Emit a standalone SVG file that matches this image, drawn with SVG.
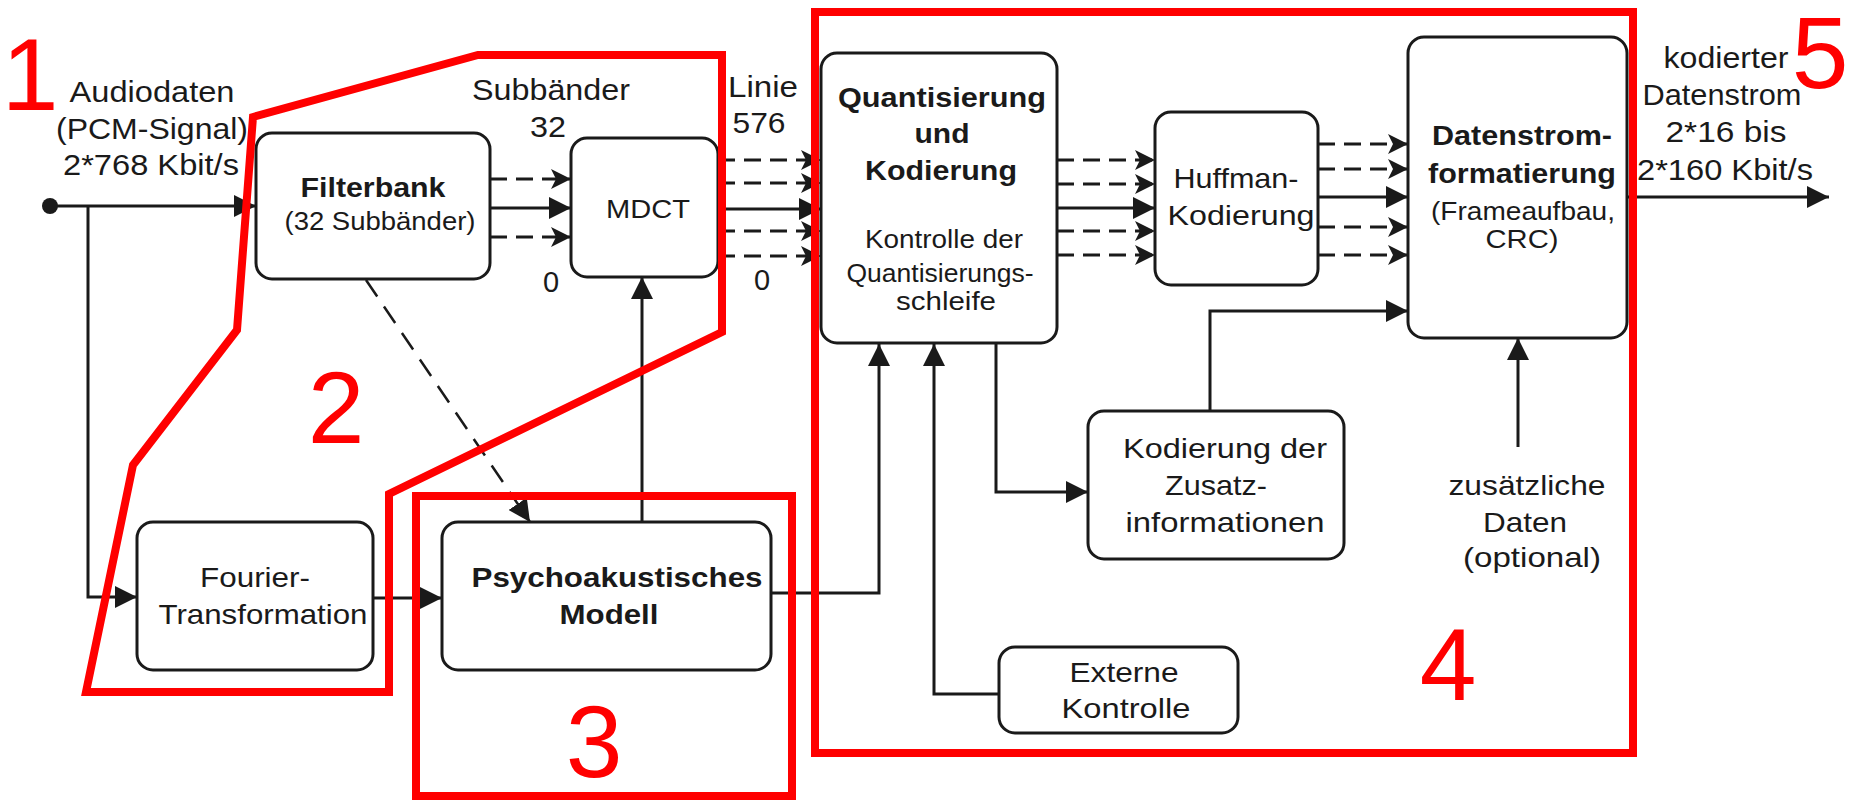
<svg xmlns="http://www.w3.org/2000/svg" width="1860" height="800" viewBox="0 0 1860 800">
  <style>
    .box { fill: #ffffff; stroke: #1a1a1a; stroke-width: 3; }
    .ln { fill: none; stroke: #1a1a1a; stroke-width: 3; }
    .dl { fill: none; stroke: #1a1a1a; stroke-width: 3; stroke-dasharray: 17 9; }
    .dg { fill: none; stroke: #1a1a1a; stroke-width: 2.5; stroke-dasharray: 20 12; }
    .t { font-family: "Liberation Sans", Arial, sans-serif; fill: #1a1a1a; text-anchor: middle; }
    .b { font-weight: bold; }
    .red { fill: none; stroke: #ff0000; stroke-width: 8; stroke-linejoin: miter; }
    .num { font-family: "Liberation Sans", Arial, sans-serif; fill: #ff0000; text-anchor: middle; font-size: 102px; }
  </style>
  <defs>
    <marker id="arr" markerUnits="userSpaceOnUse" markerWidth="22" markerHeight="22" refX="22" refY="11" orient="auto">
      <path d="M0,0 L22,11 L0,22 z" fill="#1a1a1a"/>
    </marker>
    <marker id="arrd" markerUnits="userSpaceOnUse" markerWidth="20" markerHeight="20" refX="20" refY="10" orient="auto">
      <path d="M0,0 L20,10 L0,20 L5,10 z" fill="#1a1a1a"/>
    </marker>
  </defs>

  <rect width="1860" height="800" fill="#ffffff"/>

  <!-- connectors -->
  <g id="connectors">
    <circle cx="50" cy="206" r="8" fill="#1a1a1a"/>
    <path class="ln" d="M50,206 H256" marker-end="url(#arr)"/>
    <path class="ln" d="M88,206 V597 H137" marker-end="url(#arr)"/>
    <path class="ln" d="M373,598 H442" marker-end="url(#arr)"/>

    <!-- Filterbank to MDCT -->
    <path class="dl" d="M490,179 H571" marker-end="url(#arrd)"/>
    <path class="ln" d="M490,208 H571" marker-end="url(#arr)"/>
    <path class="dl" d="M490,237 H571" marker-end="url(#arrd)"/>

    <!-- MDCT to quantisation -->
    <path class="dl" d="M718,160 H821" marker-end="url(#arrd)"/>
    <path class="dl" d="M718,183 H821" marker-end="url(#arrd)"/>
    <path class="ln" d="M718,209 H821" marker-end="url(#arr)"/>
    <path class="dl" d="M718,231 H821" marker-end="url(#arrd)"/>
    <path class="dl" d="M718,256 H821" marker-end="url(#arrd)"/>

    <!-- quantisation to Huffman -->
    <path class="dl" d="M1057,160 H1155" marker-end="url(#arrd)"/>
    <path class="dl" d="M1057,184 H1155" marker-end="url(#arrd)"/>
    <path class="ln" d="M1057,208 H1155" marker-end="url(#arr)"/>
    <path class="dl" d="M1057,231 H1155" marker-end="url(#arrd)"/>
    <path class="dl" d="M1057,255 H1155" marker-end="url(#arrd)"/>

    <!-- Huffman to bitstream formatting -->
    <path class="dl" d="M1318,144 H1408" marker-end="url(#arrd)"/>
    <path class="dl" d="M1318,169 H1408" marker-end="url(#arrd)"/>
    <path class="ln" d="M1318,197 H1408" marker-end="url(#arr)"/>
    <path class="dl" d="M1318,227 H1408" marker-end="url(#arrd)"/>
    <path class="dl" d="M1318,255 H1408" marker-end="url(#arrd)"/>

    <!-- output -->
    <path class="ln" d="M1627,197 H1829" marker-end="url(#arr)"/>

    <!-- filterbank to psychoacoustic model -->
    <path class="dg" d="M366,280 L530,522" marker-end="url(#arr)"/>
    <!-- psychoacoustic model to MDCT -->
    <path class="ln" d="M642,522 V277" marker-end="url(#arr)"/>
    <!-- psychoacoustic model to quantisation -->
    <path class="ln" d="M771,593 H879 V344" marker-end="url(#arr)"/>
    <!-- external control -->
    <path class="ln" d="M999,694 H934 V344" marker-end="url(#arr)"/>
    <!-- side information -->
    <path class="ln" d="M996,344 V492 H1088" marker-end="url(#arr)"/>
    <path class="ln" d="M1210,411 V311 H1408" marker-end="url(#arr)"/>
    <!-- ancillary data -->
    <path class="ln" d="M1518,447 V338" marker-end="url(#arr)"/>
  </g>

  <!-- nodes -->
  <g id="filterbank">
    <rect class="box" x="256" y="133" width="234" height="146" rx="16"/>
    <text class="t b" x="373" y="197" font-size="27" textLength="145" lengthAdjust="spacingAndGlyphs">Filterbank</text>
    <text class="t" x="380" y="230" font-size="25" textLength="191" lengthAdjust="spacingAndGlyphs">(32 Subbänder)</text>
  </g>

  <g id="mdct">
    <rect class="box" x="571" y="138" width="147" height="139" rx="16"/>
    <text class="t" x="648" y="218" font-size="26" textLength="84" lengthAdjust="spacingAndGlyphs">MDCT</text>
  </g>

  <g id="quantisierung">
    <rect class="box" x="821" y="53" width="236" height="290" rx="16"/>
    <text class="t b" x="942" y="107" font-size="27" textLength="208" lengthAdjust="spacingAndGlyphs">Quantisierung</text>
    <text class="t b" x="942" y="143" font-size="27" textLength="55" lengthAdjust="spacingAndGlyphs">und</text>
    <text class="t b" x="941" y="180" font-size="27" textLength="152" lengthAdjust="spacingAndGlyphs">Kodierung</text>
    <text class="t" x="944" y="248" font-size="25" textLength="158" lengthAdjust="spacingAndGlyphs">Kontrolle der</text>
    <text class="t" x="940" y="282" font-size="25" textLength="187" lengthAdjust="spacingAndGlyphs">Quantisierungs-</text>
    <text class="t" x="946" y="310" font-size="25" textLength="100" lengthAdjust="spacingAndGlyphs">schleife</text>
  </g>

  <g id="huffman">
    <rect class="box" x="1155" y="112" width="163" height="173" rx="16"/>
    <text class="t" x="1236" y="188" font-size="28" textLength="125" lengthAdjust="spacingAndGlyphs">Huffman-</text>
    <text class="t" x="1241" y="225" font-size="28" textLength="147" lengthAdjust="spacingAndGlyphs">Kodierung</text>
  </g>

  <g id="datenstrom">
    <rect class="box" x="1408" y="37" width="219" height="301" rx="16"/>
    <text class="t b" x="1522" y="145" font-size="27" textLength="180" lengthAdjust="spacingAndGlyphs">Datenstrom-</text>
    <text class="t b" x="1522" y="183" font-size="27" textLength="188" lengthAdjust="spacingAndGlyphs">formatierung</text>
    <text class="t" x="1523" y="220" font-size="25" textLength="184" lengthAdjust="spacingAndGlyphs">(Frameaufbau,</text>
    <text class="t" x="1522" y="248" font-size="25" textLength="73" lengthAdjust="spacingAndGlyphs">CRC)</text>
  </g>

  <g id="fourier">
    <rect class="box" x="137" y="522" width="236" height="148" rx="16"/>
    <text class="t" x="255" y="587" font-size="28" textLength="110" lengthAdjust="spacingAndGlyphs">Fourier-</text>
    <text class="t" x="263" y="624" font-size="28" textLength="209" lengthAdjust="spacingAndGlyphs">Transformation</text>
  </g>

  <g id="psychoakustik">
    <rect class="box" x="442" y="522" width="329" height="148" rx="16"/>
    <text class="t b" x="617" y="587" font-size="28" textLength="291" lengthAdjust="spacingAndGlyphs">Psychoakustisches</text>
    <text class="t b" x="609" y="624" font-size="28" textLength="99" lengthAdjust="spacingAndGlyphs">Modell</text>
  </g>

  <g id="zusatz">
    <rect class="box" x="1088" y="411" width="256" height="148" rx="16"/>
    <text class="t" x="1225" y="458" font-size="28" textLength="204" lengthAdjust="spacingAndGlyphs">Kodierung der</text>
    <text class="t" x="1216" y="495" font-size="28" textLength="102" lengthAdjust="spacingAndGlyphs">Zusatz-</text>
    <text class="t" x="1225" y="532" font-size="28" textLength="199" lengthAdjust="spacingAndGlyphs">informationen</text>
  </g>

  <g id="externe">
    <rect class="box" x="999" y="647" width="239" height="86" rx="16"/>
    <text class="t" x="1124" y="682" font-size="28" textLength="109" lengthAdjust="spacingAndGlyphs">Externe</text>
    <text class="t" x="1126" y="718" font-size="28" textLength="129" lengthAdjust="spacingAndGlyphs">Kontrolle</text>
  </g>

  <!-- free labels -->
  <g id="labels">
    <text class="t" x="152" y="102" font-size="29" textLength="165" lengthAdjust="spacingAndGlyphs">Audiodaten</text>
    <text class="t" x="152" y="139" font-size="29" textLength="192" lengthAdjust="spacingAndGlyphs">(PCM-Signal)</text>
    <text class="t" x="151" y="175" font-size="29" textLength="176" lengthAdjust="spacingAndGlyphs">2*768 Kbit/s</text>
    <text class="t" x="551" y="100" font-size="29" textLength="158" lengthAdjust="spacingAndGlyphs">Subbänder</text>
    <text class="t" x="548" y="137" font-size="29" textLength="36" lengthAdjust="spacingAndGlyphs">32</text>
    <text class="t" x="551" y="292" font-size="29">0</text>
    <text class="t" x="763" y="97" font-size="29" textLength="70" lengthAdjust="spacingAndGlyphs">Linie</text>
    <text class="t" x="759" y="133" font-size="29" textLength="53" lengthAdjust="spacingAndGlyphs">576</text>
    <text class="t" x="762" y="290" font-size="29">0</text>
    <text class="t" x="1726" y="68" font-size="29" textLength="125" lengthAdjust="spacingAndGlyphs">kodierter</text>
    <text class="t" x="1722" y="105" font-size="29" textLength="159" lengthAdjust="spacingAndGlyphs">Datenstrom</text>
    <text class="t" x="1726" y="142" font-size="29" textLength="121" lengthAdjust="spacingAndGlyphs">2*16 bis</text>
    <text class="t" x="1725" y="180" font-size="29" textLength="176" lengthAdjust="spacingAndGlyphs">2*160 Kbit/s</text>
    <text class="t" x="1527" y="495" font-size="28" textLength="157" lengthAdjust="spacingAndGlyphs">zusätzliche</text>
    <text class="t" x="1525" y="532" font-size="28" textLength="84" lengthAdjust="spacingAndGlyphs">Daten</text>
    <text class="t" x="1532" y="567" font-size="28" textLength="138" lengthAdjust="spacingAndGlyphs">(optional)</text>
  </g>

  <!-- red outlines and section numbers -->
  <g id="sections">
    <polygon class="red" points="253,117 478,55 722,55 722,332 389,494 389,692 86,692 133,465 237,330"/>
    <rect class="red" x="416" y="496" width="376" height="300"/>
    <rect class="red" x="815" y="12" width="818" height="741"/>
    <text class="num" x="30" y="110">1</text>
    <text class="num" x="336" y="443">2</text>
    <text class="num" x="594" y="777">3</text>
    <text class="num" x="1448" y="700">4</text>
    <text class="num" x="1820" y="88" font-size="90">5</text>
  </g>
</svg>
